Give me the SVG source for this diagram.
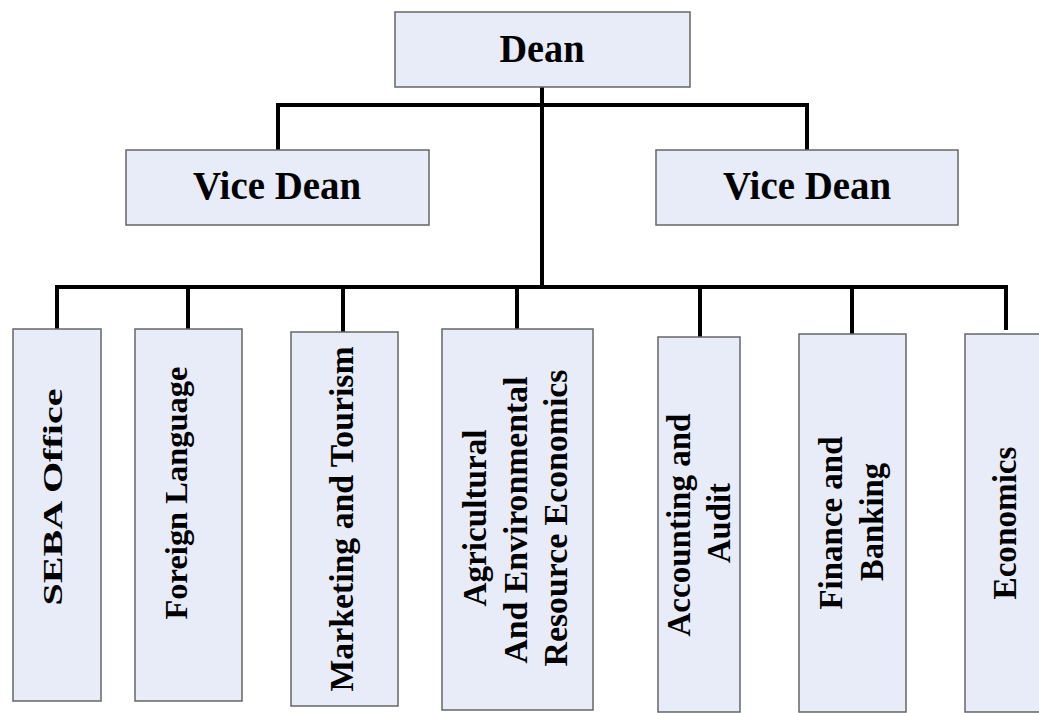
<svg xmlns="http://www.w3.org/2000/svg" width="1039" height="713" viewBox="0 0 1039 713">
  <style>
    .box { fill: #E8ECF8; stroke: #666; stroke-width: 1.5; }
    .lbl { font-family: "Liberation Serif", "Times New Roman", serif; font-weight: bold; fill: #000; }
    .link { fill: none; stroke: #000; stroke-width: 4; stroke-linejoin: miter; stroke-linecap: butt; }
  </style>
  <rect width="1039" height="713" fill="#fff"/>

  <!-- connectors -->
  <g id="connectors">
    <path class="link" d="M542 87 V287"/>
    <path class="link" d="M278 150 V105 H807 V150"/>
    <path class="link" d="M57 329 V287 H1006 V330"/>
    <path class="link" d="M188 287 V329"/>
    <path class="link" d="M343 287 V332"/>
    <path class="link" d="M517 287 V329"/>
    <path class="link" d="M700 287 V337"/>
    <path class="link" d="M852 287 V334"/>
  </g>

  <g id="dean">
    <rect class="box" x="395" y="12" width="295" height="75"/>
    <text class="lbl" x="542" y="62" font-size="40" text-anchor="middle" textLength="85" lengthAdjust="spacingAndGlyphs">Dean</text>
  </g>

  <g id="vice-dean-1">
    <rect class="box" x="126" y="150" width="303" height="75"/>
    <text class="lbl" x="277" y="199" font-size="41" text-anchor="middle" textLength="168" lengthAdjust="spacingAndGlyphs">Vice Dean</text>
  </g>

  <g id="vice-dean-2">
    <rect class="box" x="656" y="150" width="302" height="75"/>
    <text class="lbl" x="807" y="199" font-size="41" text-anchor="middle" textLength="168" lengthAdjust="spacingAndGlyphs">Vice Dean</text>
  </g>

  <g id="seba-office">
    <rect class="box" x="13" y="329" width="88" height="372"/>
    <text class="lbl" transform="translate(62 497) rotate(-90)" font-size="28" text-anchor="middle" textLength="217" lengthAdjust="spacingAndGlyphs">SEBA Office</text>
  </g>

  <g id="foreign-language">
    <rect class="box" x="135" y="329" width="107" height="372"/>
    <text class="lbl" transform="translate(187 493) rotate(-90)" font-size="31" text-anchor="middle" textLength="253" lengthAdjust="spacingAndGlyphs">Foreign Language</text>
  </g>

  <g id="marketing-tourism">
    <rect class="box" x="291" y="332" width="107" height="374"/>
    <text class="lbl" transform="translate(353 519) rotate(-90)" font-size="34" text-anchor="middle" textLength="345" lengthAdjust="spacingAndGlyphs">Marketing and Tourism</text>
  </g>

  <g id="agri-env-economics">
    <rect class="box" x="442" y="329" width="151" height="381"/>
    <text class="lbl" transform="translate(486 518) rotate(-90)" font-size="33" text-anchor="middle" textLength="177" lengthAdjust="spacingAndGlyphs">Agricultural</text>
    <text class="lbl" transform="translate(527 520) rotate(-90)" font-size="33" text-anchor="middle" textLength="287" lengthAdjust="spacingAndGlyphs">And Environmental</text>
    <text class="lbl" transform="translate(567 518) rotate(-90)" font-size="33" text-anchor="middle" textLength="297" lengthAdjust="spacingAndGlyphs">Resource Economics</text>
  </g>

  <g id="accounting-audit">
    <rect class="box" x="658" y="337" width="82" height="375"/>
    <text class="lbl" transform="translate(690 525) rotate(-90)" font-size="33" text-anchor="middle" textLength="223" lengthAdjust="spacingAndGlyphs">Accounting and</text>
    <text class="lbl" transform="translate(730 523) rotate(-90)" font-size="33" text-anchor="middle" textLength="80" lengthAdjust="spacingAndGlyphs">Audit</text>
  </g>

  <g id="finance-banking">
    <rect class="box" x="799" y="334" width="107" height="378"/>
    <text class="lbl" transform="translate(842 523) rotate(-90)" font-size="33" text-anchor="middle" textLength="173" lengthAdjust="spacingAndGlyphs">Finance and</text>
    <text class="lbl" transform="translate(883 522) rotate(-90)" font-size="33" text-anchor="middle" textLength="118" lengthAdjust="spacingAndGlyphs">Banking</text>
  </g>

  <g id="economics">
    <rect class="box" x="965" y="334" width="80" height="378"/>
    <text class="lbl" transform="translate(1016 523) rotate(-90)" font-size="33" text-anchor="middle" textLength="153" lengthAdjust="spacingAndGlyphs">Economics</text>
  </g>
</svg>
